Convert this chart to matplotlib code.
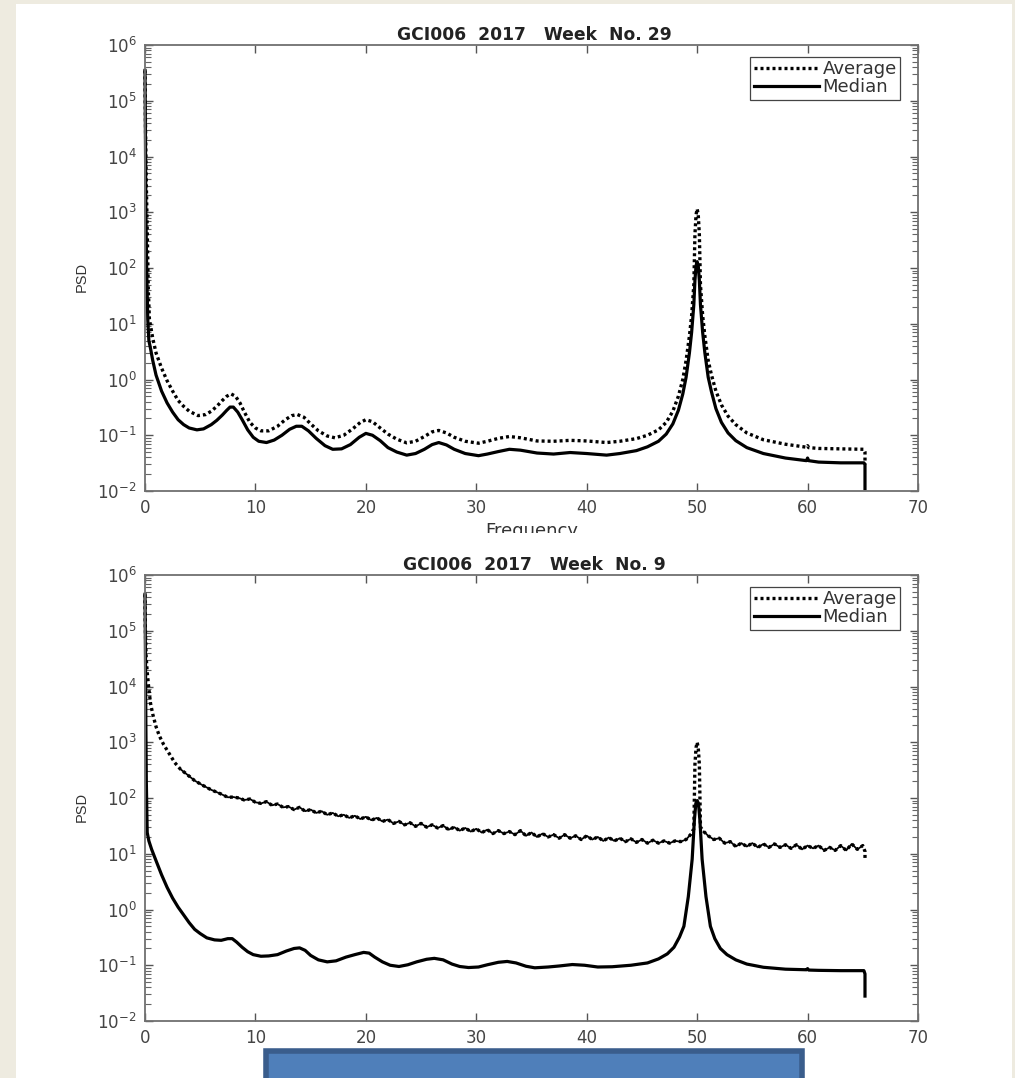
import matplotlib
matplotlib.use('Agg')
import matplotlib.pyplot as plt
from matplotlib.patches import Rectangle

plt.rcParams['font.family'] = ['DejaVu Sans']
plt.rcParams['mathtext.fontset'] = 'dejavusans'
plt.rcParams['mathtext.default'] = 'regular'

# week 29
x29_avg = [0, 0.02, 0.05, 0.1, 0.2, 0.3, 0.4, 0.7, 1, 1.5, 2, 2.5, 3, 3.5, 4, 4.8, 5.5, 6, 6.5, 7, 7.4, 7.8, 8.2, 8.6, 9, 9.5, 10, 10.5, 11.2, 12, 12.7, 13.3, 13.8, 14.4, 15, 15.7, 16.5, 17.2, 18, 18.8, 19.5, 20, 20.6, 21.3, 22, 22.8, 23.7, 24.5, 25.3, 26, 26.6, 27.3, 28, 29, 30.2, 31, 32, 33, 34, 35.5, 37, 38.5, 40, 41.8, 43, 44.5, 45.5, 46.5, 47.2, 47.8, 48.3, 48.7, 49, 49.3, 49.5, 49.7, 49.8, 49.9, 50, 50.1, 50.2, 50.3, 50.5, 50.7, 51, 51.3, 51.7, 52.2, 52.8, 53.5, 54.5, 56, 58, 59.9, 60, 60.1, 61, 63, 65.1, 65.2, 65.2]
y29_avg = [3.5e5, 1e5, 3e4, 5e3, 500, 40, 12, 5.5, 3, 1.6, 0.95, 0.62, 0.42, 0.33, 0.27, 0.225, 0.235, 0.27, 0.33, 0.42, 0.5, 0.55, 0.5, 0.38, 0.26, 0.17, 0.135, 0.12, 0.12, 0.145, 0.19, 0.225, 0.235, 0.21, 0.16, 0.12, 0.097, 0.09, 0.1, 0.13, 0.17, 0.19, 0.175, 0.135, 0.105, 0.085, 0.073, 0.078, 0.095, 0.115, 0.122, 0.11, 0.092, 0.078, 0.072, 0.078, 0.088, 0.095, 0.09, 0.079, 0.078, 0.081, 0.079, 0.074, 0.078, 0.087, 0.1, 0.125, 0.17, 0.27, 0.5, 1.0, 2.2, 6, 14, 50, 400, 900, 1150, 900, 400, 50, 14, 6, 2.2, 1.2, 0.62, 0.35, 0.22, 0.155, 0.11, 0.083, 0.069, 0.061, 0.065, 0.06, 0.058, 0.057, 0.056, 0.05, 0.03]

x29_med = [0, 0.02, 0.05, 0.08, 0.15, 0.25, 0.35, 0.5, 0.7, 1, 1.5, 2, 2.5, 3, 3.5, 4, 4.7, 5.3, 6, 6.5, 7, 7.4, 7.7, 8, 8.4, 8.8, 9.3, 9.8, 10.3, 11, 11.7, 12.4, 13.1, 13.7, 14.2, 14.8, 15.5, 16.3, 17, 17.8, 18.6, 19.4, 20, 20.6, 21.3, 22, 22.8, 23.7, 24.5, 25.3, 26, 26.6, 27.3, 28, 29, 30.2, 31, 32, 33, 34, 35.5, 37, 38.5, 40, 41.8, 43, 44.5, 45.5, 46.5, 47.2, 47.8, 48.3, 48.7, 49, 49.3, 49.5, 49.7, 49.8, 49.9, 50, 50.1, 50.2, 50.3, 50.5, 50.7, 51, 51.3, 51.7, 52.2, 52.8, 53.5, 54.5, 56, 58, 59.9, 60, 60.1, 61, 63, 65.1, 65.2, 65.2]
y29_med = [3.5e5, 1e5, 1e4, 1e3, 100, 12, 5, 3.6, 2.2, 1.2, 0.62, 0.38, 0.26, 0.19, 0.155, 0.135, 0.125, 0.13, 0.155, 0.185, 0.23, 0.28, 0.32, 0.32, 0.26, 0.19, 0.125, 0.092, 0.078, 0.074, 0.082, 0.1, 0.128, 0.145, 0.145, 0.12, 0.088, 0.065, 0.056, 0.057, 0.068, 0.092, 0.108, 0.1, 0.08, 0.06, 0.05, 0.044, 0.047, 0.056, 0.068, 0.074, 0.067, 0.056, 0.047, 0.043, 0.046, 0.051, 0.056, 0.054, 0.048, 0.046, 0.049, 0.047, 0.044, 0.047, 0.053, 0.062, 0.078, 0.105, 0.16, 0.28, 0.55, 1.1, 3, 7, 22, 60, 110, 130, 110, 60, 22, 7, 3, 1.1, 0.6, 0.3, 0.17, 0.11, 0.08, 0.06, 0.047, 0.039, 0.035, 0.039, 0.035, 0.033, 0.032, 0.032, 0.03, 0.011]

# week 9
x9_avg = [0, 0.02, 0.05, 0.1, 0.2, 0.35, 0.5, 0.7, 1, 1.3, 1.7, 2.2, 2.7, 3.2, 3.8, 4.5, 5.2, 6, 6.8, 7.5,
          8, 8.5, 9, 9.5, 10, 10.5, 11, 11.5, 12, 12.5, 13, 13.5, 14, 14.5, 15, 15.5, 16, 16.5, 17, 17.5, 18, 18.5, 19, 19.5, 20, 20.5, 21, 21.5, 22, 22.5, 23, 23.5, 24, 24.5, 25, 25.5, 26, 26.5, 27, 27.5, 28, 28.5, 29, 29.5, 30, 30.5, 31, 31.5, 32, 32.5, 33, 33.5, 34, 34.5, 35, 35.5, 36, 36.5, 37, 37.5, 38, 38.5, 39, 39.5, 40, 40.5, 41, 41.5, 42, 42.5, 43, 43.5, 44, 44.5, 45, 45.5, 46, 46.5, 47, 47.5, 48, 48.5, 49, 49.4, 49.7, 49.8, 49.9, 50, 50.1, 50.2, 50.3, 50.6,
          51, 51.5, 52, 52.5, 53, 53.5, 54, 54.5, 55, 55.5, 56, 56.5, 57, 57.5, 58, 58.5, 59, 59.5, 60, 60.5, 61, 61.5, 62, 62.5, 63, 63.5, 64, 64.5, 65, 65.2, 65.2]
y9_avg = [4.5e5, 1.5e5, 8e4, 3.5e4, 1.8e4, 9e3, 5e3, 3.2e3, 1.9e3, 1.3e3, 900, 620, 430, 330, 265, 205, 170, 140, 120, 103,
          104, 100, 92, 96, 84, 80, 86, 74, 78, 68, 70, 62, 68, 58, 62, 54, 58, 50, 54, 47, 50, 44, 48, 42, 46, 40, 44, 38, 41, 35, 38, 33, 36, 31, 35, 30, 33, 29, 32, 27, 30, 26, 29, 25, 28, 24, 27, 23, 26, 23, 25, 22, 26, 21, 24, 20, 23, 20, 22, 19, 22, 19, 21, 18, 21, 18, 20, 17, 19.5, 17, 19, 16.5, 18.5, 16, 18, 15.5, 17.5, 15.5, 17, 15.5, 17, 16.5, 18, 22, 28, 400, 800, 1000, 800, 400, 30, 25,
          21, 18, 19, 15.5, 16.5, 13.5, 15.5, 13.5, 15.5, 13, 15, 13, 15, 13, 14.5, 12.5, 14.5, 12, 14, 12.5, 14, 11.5, 13, 11.5, 14, 11.5, 15, 12, 14, 11, 8]

x9_med = [0, 0.02, 0.05, 0.08, 0.12, 0.2, 0.35, 0.6, 1, 1.5, 2, 2.5, 3, 3.5, 4, 4.5, 5, 5.6, 6.3, 6.9, 7.5, 7.9, 8.3, 8.8, 9.3, 9.8, 10.5, 11.2, 12, 12.8, 13.5, 14, 14.5, 15, 15.7, 16.5, 17.3, 18.2, 19, 19.8, 20.3, 20.8, 21.5, 22.2, 23, 23.8, 24.6, 25.5, 26.2, 27, 27.8, 28.5, 29.3, 30.2, 31, 32, 32.8, 33.6, 34.5, 35.3, 36.5, 37.5, 38.7, 39.8, 41, 42.3, 44, 45.5, 46.5, 47.3, 47.9, 48.4, 48.8, 49.2, 49.55, 49.75, 49.88, 50, 50.12, 50.25, 50.45, 50.8, 51.2, 51.6, 52.1, 52.7, 53.5, 54.5, 56, 58, 59.9, 60, 60.1, 61, 63, 65.1, 65.2, 65.2]
y9_med = [4.5e5, 1.5e5, 2e4, 2e3, 200, 24, 17, 12, 7.5, 4.2, 2.5, 1.6, 1.1, 0.8, 0.58, 0.44, 0.37, 0.31, 0.285, 0.28, 0.3, 0.3, 0.26, 0.21, 0.175, 0.155, 0.145, 0.147, 0.155, 0.18, 0.2, 0.205, 0.185, 0.15, 0.125, 0.115, 0.12, 0.14, 0.155, 0.17, 0.165, 0.14, 0.115, 0.1, 0.095, 0.102, 0.115, 0.128, 0.133, 0.125, 0.105, 0.095, 0.091, 0.093, 0.102, 0.113, 0.117, 0.11, 0.096, 0.09, 0.093, 0.097, 0.103, 0.1, 0.093, 0.094, 0.1, 0.11, 0.13, 0.16, 0.21, 0.32, 0.5, 1.7, 8, 40, 80, 90, 80, 40, 8, 1.7, 0.5, 0.3, 0.2, 0.155, 0.125, 0.105, 0.092, 0.085, 0.083, 0.087, 0.082, 0.081, 0.08, 0.08, 0.07, 0.028]

xticks = [0, 10, 20, 30, 40, 50, 60, 70]
yticks = [1e-2, 1e-1, 1e0, 1e1, 1e2, 1e3, 1e4, 1e5, 1e6]

W, H = 1015, 1078
fig = plt.figure(figsize=(W / 100, H / 100), dpi=100, facecolor='#eeebe0')

# white slide area, behind the axes
fig.patches.append(Rectangle((16 / W, 0), (1012 - 16) / W, 1 - 4 / H, transform=fig.transFigure, facecolor='white', edgecolor='none', zorder=-5))


def make_panel(top, bottom, x_avg, y_avg, x_med, y_med, title, xlabel=None, noisy=False):
    ax = fig.add_axes([145 / W, 1 - bottom / H, (918 - 145) / W, (bottom - top) / H])
    ax.patch.set_alpha(0)
    ax.semilogy(x_avg, y_avg, color='black', lw=2.4, ls=(0, (0.9, 0.9)), label='Average', clip_on=False)
    ax.semilogy(x_med, y_med, color='black', lw=2.3, label='Median', clip_on=False)
    if noisy:
        # the noisy stretches read as an almost solid band
        left = [(a, b) for a, b in zip(x_avg, y_avg) if 3 <= a <= 49.4]
        right = [(a, b) for a, b in zip(x_avg, y_avg) if 50.6 <= a <= 65]
        for part in (left, right):
            ax.semilogy([p[0] for p in part], [p[1] for p in part], color='black', lw=1.3)
    ax.set_xlim(0, 70)
    ax.set_ylim(1e-2, 1e6)
    ax.set_xticks(xticks)
    ax.set_yticks(yticks)
    ax.tick_params(which='major', length=6, width=1, color='#555555', labelcolor='#444444', labelsize=12, top=True, right=True, direction='in', pad=6)
    ax.tick_params(which='minor', length=4, width=0.8, color='#666666', top=False, right=True, direction='in')
    ax.yaxis.set_minor_locator(matplotlib.ticker.LogLocator(base=10, subs=range(2, 10), numticks=12))
    ax.yaxis.set_minor_formatter(matplotlib.ticker.NullFormatter())
    for s in ax.spines.values():
        s.set_color('#707070')
        s.set_linewidth(1.3)
    ax.set_ylabel('PSD', fontsize=10.5, color='#333333', family='Liberation Sans')
    ax.yaxis.set_label_coords(-0.073, 0.48)
    if xlabel:
        ax.set_xlabel(xlabel, fontsize=13, color='#333333', labelpad=3)
    ax.set_title(title, fontsize=12.3, fontweight='bold', color='#222222', pad=3.5, x=0.504)
    leg = ax.legend(loc='upper right', bbox_to_anchor=(0.977, 0.9735), borderaxespad=0, fontsize=13, fancybox=False, framealpha=1, edgecolor='#444444', handlelength=3.6, handletextpad=0.2, labelspacing=0, borderpad=0.2, labelcolor='#333333')
    leg.get_frame().set_linewidth(0.9)
    return ax


make_panel(45, 491, x29_avg, y29_avg, x29_med, y29_med, 'GCI006  2017   Week  No. 29', 'Frequency')
make_panel(575, 1021, x9_avg, y9_avg, x9_med, y9_med, 'GCI006  2017   Week  No. 9', noisy=True)

# the reference cuts off the descenders of the x label
fig.patches.append(Rectangle((440 / W, 1 - 542 / H), 200 / W, 9 / H, transform=fig.transFigure, facecolor='white', edgecolor='none', zorder=5))

# blue box at the bottom, cut by the edge of the slide
fig.patches.append(Rectangle((266 / W, -10 / H), (802 - 266) / W, (1078 - 1051 + 10) / H, transform=fig.transFigure, facecolor='#4f7fba', edgecolor='#3a5d8c', linewidth=4, zorder=5))

fig.savefig('out.png', dpi=100, facecolor=fig.get_facecolor())
